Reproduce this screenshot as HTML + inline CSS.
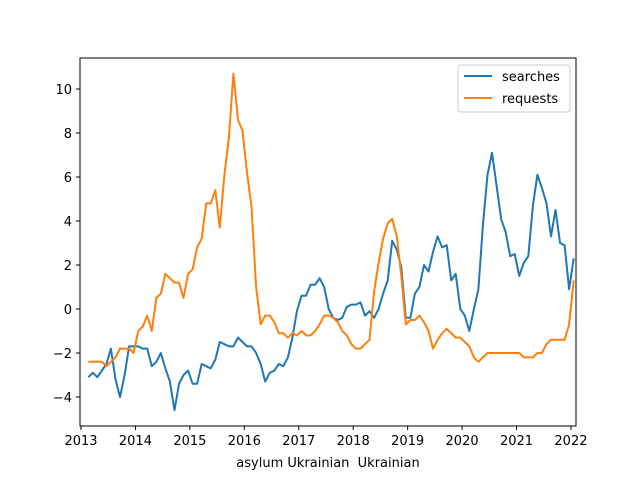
<!DOCTYPE html>
<html><head><meta charset="utf-8"><style>
body{margin:0;background:#fff;}
svg text{font-family:"DejaVu Sans","Liberation Sans",sans-serif;fill:#000;white-space:pre;}
</style></head><body>
<svg id="chart" width="640" height="480" xmlns="http://www.w3.org/2000/svg">
<rect width="640" height="480" fill="#fff"/>
<g id="plot"></g>
<rect x="80" y="58" width="496" height="368" fill="none" stroke="#000" stroke-width="1"/>
<g id="xt"></g><g id="yt"></g>
<text x="328" y="467" font-size="13" text-anchor="middle" xml:space="preserve">asylum Ukrainian  Ukrainian</text>
<g>
<rect x="458" y="65" width="112" height="47" rx="3" fill="#fff" stroke="#ccc"/>
<line x1="464" y1="76" x2="492" y2="76" stroke="#1f77b4" stroke-width="2"/>
<text x="502" y="81" font-size="13">searches</text>
<line x1="464" y1="98" x2="492" y2="98" stroke="#ff7f0e" stroke-width="2"/>
<text x="502" y="103" font-size="13">requests</text>
</g>
</svg>
<script>
const startYear = 2013, startMonth = 3;
const searches = [-3.1,-2.9,-3.1,-2.8,-2.5,-1.8,-3.2,-4.0,-3.0,-1.7,-1.7,-1.7,
-1.8,-1.8,-2.6,-2.4,-2.0,-2.7,-3.3,-4.6,-3.4,-3.0,-2.8,-3.4,
-3.4,-2.5,-2.6,-2.7,-2.3,-1.5,-1.6,-1.7,-1.7,-1.3,
-1.5,-1.7,-1.7,-2.0,-2.5,-3.3,-2.9,-2.8,-2.5,-2.6,-2.2,-1.3,-0.1,
0.6,0.6,1.1,1.1,1.4,1.0,0.0,-0.4,-0.5,-0.4,0.1,0.2,0.2,0.3,-0.3,-0.1,-0.4,0.0,0.7,1.3,3.1,
2.7,1.9,-0.4,-0.4,0.7,1.0,2.0,1.7,2.6,3.3,2.8,2.9,1.3,1.6,0.0,-0.3,-1.0,
0.0,0.9,3.8,6.1,7.1,5.6,4.1,3.5,2.4,
2.5,1.5,2.1,2.4,4.7,6.1,5.5,4.8,3.3,4.5,3.0,2.9,0.9,2.3];
const requests = [-2.4,-2.4,-2.4,-2.4,-2.6,-2.4,-2.2,-1.8,-1.8,-1.8,-2.0,-1.0,
-0.8,-0.3,-1.0,0.5,0.7,1.6,1.4,1.2,1.2,0.5,1.6,1.8,
2.8,3.2,4.8,4.8,5.4,3.7,6.1,7.8,10.7,8.6,8.1,6.2,
4.6,1.0,-0.7,-0.3,-0.3,-0.6,-1.1,-1.1,-1.3,-1.1,-1.2,-1.0,
-1.2,-1.2,-1.0,-0.7,-0.3,-0.3,-0.4,-0.6,-1.0,-1.2,-1.6,-1.8,
-1.8,-1.6,-1.4,0.8,2.1,3.2,3.9,4.1,3.3,1.5,-0.7,-0.5,
-0.5,-0.3,-0.6,-1.0,-1.8,-1.4,-1.1,-0.9,-1.1,-1.3,-1.3,-1.5,
-1.7,-2.2,-2.4,-2.2,-2.0,-2.0,-2.0,-2.0,-2.0,-2.0,-2.0,-2.0,
-2.2,-2.2,-2.2,-2.0,-2.0,-1.6,-1.4,-1.4,-1.4,-1.4,-0.7,1.3];
const xTicks = [2013,2014,2015,2016,2017,2018,2019,2020,2021,2022];
const yTicks = [-4,-2,0,2,4,6,8,10];

const NS="http://www.w3.org/2000/svg";
function xs(t){return 81+(t-2013)*54.44;}
function ys(v){return 309-22*v;}
function tOf(i){return startYear+(startMonth-1.4+i)/12;}
const plot=document.getElementById('plot');
function line(arr,color,name){
  const p=document.createElementNS(NS,'polyline');
  p.setAttribute('points',arr.map((v,i)=>xs(tOf(i)).toFixed(1)+','+ys(v).toFixed(1)).join(' '));
  p.setAttribute('fill','none');p.setAttribute('stroke',color);p.setAttribute('stroke-width','2');
  p.setAttribute('stroke-linejoin','round');
  
  
  plot.appendChild(p);
}
line(searches,'#1f77b4','searches-line');
line(requests,'#ff7f0e','requests-line');
const xt=document.getElementById('xt');
xTicks.forEach(t=>{
  const x=xs(t);
  const l=document.createElementNS(NS,'line');
  l.setAttribute('x1',x);l.setAttribute('x2',x);l.setAttribute('y1',426);l.setAttribute('y2',430);l.setAttribute('stroke','#000');
  
  
  xt.appendChild(l);
  const s=document.createElementNS(NS,'text');
  s.setAttribute('x',x);s.setAttribute('y',445);s.setAttribute('font-size','13');s.setAttribute('text-anchor','middle');
  s.textContent=t;
  
  
  xt.appendChild(s);
});
const yt=document.getElementById('yt');
yTicks.forEach(v=>{
  const y=ys(v);
  const l=document.createElementNS(NS,'line');
  l.setAttribute('x1',76);l.setAttribute('x2',80);l.setAttribute('y1',y);l.setAttribute('y2',y);l.setAttribute('stroke','#000');
  
  
  yt.appendChild(l);
  const s=document.createElementNS(NS,'text');
  s.setAttribute('x',72);s.setAttribute('y',y+5);s.setAttribute('font-size','13');s.setAttribute('text-anchor','end');
  s.textContent=v<0?'\u2212'+(-v):String(v);
  
  
  yt.appendChild(s);
});
</script>
</body></html>
